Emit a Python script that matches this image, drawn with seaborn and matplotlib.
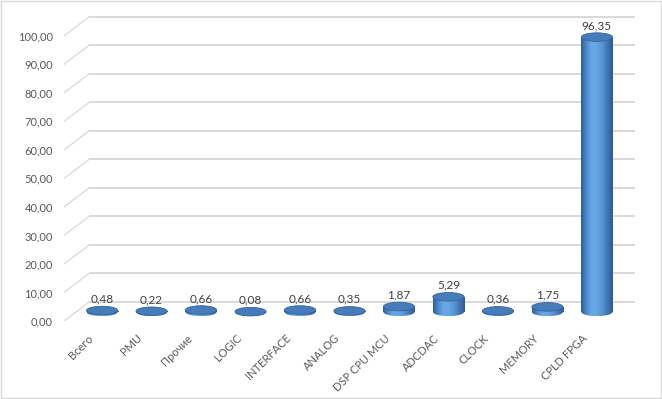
import numpy as np
import pandas as pd
import matplotlib
matplotlib.use("Agg")
import matplotlib.pyplot as plt
import matplotlib.transforms as mtransforms
import seaborn as sns
from matplotlib.patches import Ellipse, Rectangle
from matplotlib.colors import LinearSegmentedColormap

# Data
categories = ["Всего", "PMU", "Прочие", "LOGIC", "INTERFACE", "ANALOG",
              "DSP CPU MCU", "ADCDAC", "CLOCK", "MEMORY", "CPLD FPGA"]
values = [0.48, 0.22, 0.66, 0.08, 0.66, 0.35, 1.87, 5.29, 0.36, 1.75, 96.35]
y_ticks = [0, 10, 20, 30, 40, 50, 60, 70, 80, 90, 100]

# fake 3D box: floor sits behind the front edge, back wall further up
BASE = 3.2
DEPTH = 6.7
BACK_X = -0.26
XLIM = (-0.77, 10.77)
YLIM = (0, 108)
ELL_H = 3.0  # ellipse height in data units

sns.set_theme(style="white")
plt.rcParams["font.family"] = ["Lato", "DejaVu Sans"]

fig = plt.figure(figsize=(6.62, 3.99), dpi=100)
ax = fig.add_axes([64 / 662, (399 - 321) / 399, (635 - 64) / 662, (321 - 13) / 399])

df = pd.DataFrame({"cat": categories, "val": values})
sns.barplot(data=df, x="cat", y="val", width=0.63, color="#5B9BD5",
            errorbar=None, ax=ax, zorder=2)

# back wall grid + diagonal floor lines
for v in y_ticks:
    ax.plot([BACK_X, XLIM[1]], [v + DEPTH] * 2, color="#d9d9d9", lw=1.4, zorder=1,
            solid_capstyle="butt")
    ax.plot([XLIM[0], BACK_X], [v, v + DEPTH], color="#d9d9d9", lw=0.9, zorder=1)

# cylinder look
body_cmap = LinearSegmentedColormap.from_list(
    "cyl", ["#2f5f98", "#4d8acb", "#69a8e6", "#66a6e3", "#5893d3", "#4076b4", "#2d5c94"])
grad = np.linspace(0, 1, 64).reshape(1, -1)

for p, v in zip(ax.patches, values):
    x0, w = p.get_x(), p.get_width()
    cx = x0 + w / 2
    p.set_y(BASE)
    p.set_facecolor("none")
    p.set_linewidth(0)
    top = BASE + v

    im = ax.imshow(grad, extent=[x0, x0 + w, BASE, top], aspect="auto",
                   cmap=body_cmap, zorder=2, interpolation="bilinear")
    im.set_clip_path(p)

    bottom = Ellipse((cx, BASE), w, ELL_H, facecolor="none", lw=0, zorder=2)
    ax.add_patch(bottom)
    im2 = ax.imshow(grad, extent=[x0, x0 + w, BASE - ELL_H / 2, BASE + ELL_H / 2],
                    aspect="auto", cmap=body_cmap, zorder=2, interpolation="bilinear")
    im2.set_clip_path(bottom)

    ax.add_patch(Ellipse((cx, top), w, ELL_H, facecolor="#467cba",
                         edgecolor="#35649c", lw=0.6, zorder=3))

    ax.text(cx, top + ELL_H / 2 + 0.6, f"{v:.2f}".replace(".", ","),
            ha="center", va="bottom", fontsize=8.5, color="#404040", zorder=4)

ax.set_xlim(*XLIM)
ax.set_ylim(*YLIM)
ax.set_yticks(y_ticks)
ax.set_yticklabels([f"{v:.2f}".replace(".", ",") for v in y_ticks])
ax.set_xticks(range(len(categories)))
ax.set_xticklabels(categories, rotation=45, ha="right", va="center",
                   rotation_mode="anchor")
ax.tick_params(axis="y", length=0, pad=8, labelsize=8, labelcolor="#595959")
ax.tick_params(axis="x", length=0, pad=11, labelsize=8, labelcolor="#595959")
shift = mtransforms.ScaledTranslation(-11 / 100, 0, fig.dpi_scale_trans)
for lbl in ax.get_xticklabels():
    lbl.set_transform(lbl.get_transform() + shift)
ax.set_xlabel("")
ax.set_ylabel("")
for s in ax.spines.values():
    s.set_visible(False)
ax.patch.set_alpha(0)

fig.patches.append(Rectangle((0.001, 0.002), 0.997, 0.996, transform=fig.transFigure,
                             fill=False, edgecolor="#d9d9d9", lw=1))

fig.savefig("out.png", dpi=100)
